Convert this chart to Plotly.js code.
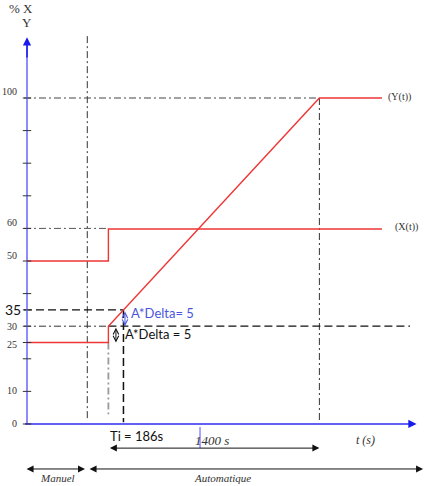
<!DOCTYPE html>
<html>
<head>
<meta charset="utf-8">
<script src="https://cdn.plot.ly/plotly-3.0.1.min.js"></script>
<style>html,body{margin:0;padding:0;background:#fff}#chart{width:439px;height:486px}</style>
</head>
<body>
<div id="chart"></div>
<script>
// ---- data ----
const tStep = 540;      // switch of set point / start of ramp (s)
const tEnd = 1940;      // Y(t) reaches 100 % (tStep + 1400 s)
const tSwitch = 400;    // manual -> automatic
const tTi = 640;        // ramp reaches 35 %
const tStop = 2355;     // end of drawn curves
const xTimes = [0, 540, 540, 2355];
const xValues = [50, 50, 59.8, 59.8];
const yTimes = [0, 540, 540, 1940, 2355];
const yValues = [25, 25, 30, 100, 100];
const tickValues = [0, 10, 20, 25, 30, 35, 40, 50, 60, 70, 80, 90, 100];
const labelValues = [0, 10, 25, 30, 50, 60, 100];
const labelTexts = ['0', '10', '25', '30', '50', '60', '100'];
const labelOffsets = [0.3, 0.4, -0.5, 0, 1.8, 1.7, 2.1];

const serif = 'Liberation Serif, Times New Roman, serif';
const sans = 'Lato, Carlito, Calibri, sans-serif';
const dashDot = '7px,3px,2px,3px';
const dashed = '8px,4px';

function line(x, y, color, width, dash) {
  return {x: x, y: y, type: 'scatter', mode: 'lines', hoverinfo: 'skip',
    line: {color: color, width: width, dash: dash || 'solid'}, showlegend: false};
}

const traces = [
  // guide lines
  line([tSwitch, tSwitch], [1.8, 119], '#333', 1, dashDot),
  line([-20, tEnd], [100, 100], '#444', 1, dashDot),
  line([tEnd, tEnd], [100, 1], '#333', 1, dashDot),
  line([-20, tStep], [60, 60], '#555', 1, dashDot),
  line([-20, tStep], [30, 30], '#333', 1, dashDot),
  line([tStep, 2541], [30, 30], '#111', 1.2, dashed),
  line([-20, tTi], [35, 35], '#111', 1.2, dashed),
  line([tTi, tTi], [35, 0.5], '#111', 1.5, dashed),
  line([tStep, tStep], [25, 3], '#9a9a9a', 1.8, dashDot),
  // axes
  line([0, 0], [0, 116.5], '#8c8cff', 2),
  line([-13, 2545], [0, 0], '#2b2bf0', 1.5),
  line([1148, 1148], [-0.9, -7.4], '#8c8cff', 1.5),
  // curves
  line(xTimes, xValues, '#f03535', 1.4),
  line(yTimes, yValues, '#f03535', 1.4),
  // ticks
  {x: tickValues.map(() => 0), y: tickValues, type: 'scatter', mode: 'markers', hoverinfo: 'skip',
    marker: {symbol: 'line-ew', size: 6, line: {color: '#333', width: 1}}, showlegend: false}
];

const ann = [];
function txt(x, y, text, size, family, color, xanchor, italic) {
  ann.push({x: x, y: y, xref: 'x', yref: 'y', text: italic ? '<i>' + text + '</i>' : text,
    showarrow: false, xanchor: xanchor || 'center', yanchor: 'middle',
    font: {size: size, family: family, color: color}});
}
function arrow(x0, y0, x1, y1, color, width, size, head, both) {
  ann.push({x: x1, y: y1, ax: x0, ay: y0, xref: 'x', yref: 'y', axref: 'x', ayref: 'y',
    text: '', showarrow: true, arrowhead: head, startarrowhead: head, arrowsize: size, startarrowsize: size,
    arrowwidth: width, arrowcolor: color, arrowside: both ? 'end+start' : 'end'});
}
labelValues.forEach((v, i) => txt(-53, v + labelOffsets[i], labelTexts[i], 10, serif, '#333', 'right'));
txt(-160, 35, '35', 14, sans, '#111', 'left');
txt(-133, 127.6, '% X', 13, serif, '#333', 'left');
txt(0, 123.3, 'Y', 13, serif, '#333', 'center');
txt(2382, 100.3, '(Y(t))', 10, serif, '#333', 'left');
txt(2429, 60.3, '(X(t))', 10, serif, '#333', 'left');
txt(677, 34.0, 'A*Delta= 5', 13, sans, '#4a55dd', 'left');
txt(637, 27.6, 'A*Delta = 5', 13, sans, '#111', 'left');
txt(537, -3.8, 'Ti = 186s', 13, sans, '#111', 'left');
txt(1228, -5.2, '1400 s', 13, serif, '#333', 'center', true);
txt(2243, -4.9, 't (s)', 12, serif, '#333', 'center', true);
txt(199, -16.6, 'Manuel', 11, serif, '#333', 'center', true);
txt(1294, -16.6, 'Automatique', 11, serif, '#333', 'center', true);

// axis arrowheads
arrow(0, 112, 0, 118.6, '#1a1aee', 1.5, 1.1, 2, false);
arrow(2530, 0, 2585, 0, '#1a1aee', 1.5, 1.1, 2, false);
// dimension arrows
arrow(tStep, -7.4, tEnd, -7.4, '#111', 1, 1.4, 2, true);
arrow(-13, -13.8, 385, -13.8, '#111', 1, 1.4, 2, true);
arrow(405, -13.8, 2628, -13.8, '#111', 1, 1.4, 2, true);
arrow(650, 35, 650, 30, '#4a55dd', 1, 1.1, 5, true);
arrow(590, 30, 590, 25, '#111', 1, 1.1, 5, true);

const layout = {
  width: 439, height: 486, autosize: false,
  margin: {l: 0, r: 0, t: 0, b: 0, pad: 0},
  paper_bgcolor: '#fff', plot_bgcolor: '#fff', showlegend: false,
  xaxis: {range: [-179.2, 2733.7], visible: false, fixedrange: true},
  yaxis: {range: [-19.02, 130.06], visible: false, fixedrange: true},
  annotations: ann
};
Plotly.newPlot('chart', traces, layout, {staticPlot: true, displayModeBar: false});
</script>
</body>
</html>
